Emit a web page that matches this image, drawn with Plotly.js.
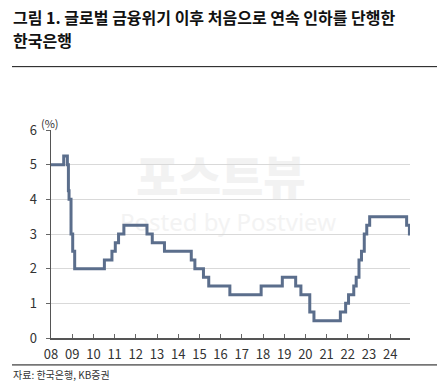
<!DOCTYPE html>
<html>
<head>
<meta charset="utf-8">
<script src="https://cdn.plot.ly/plotly-3.0.1.min.js"></script>
<style>
html,body{margin:0;padding:0;background:#fff;}
#wrap{position:relative;width:445px;height:389px;}
#chart{position:absolute;left:0;top:0;width:445px;height:389px;z-index:1;}
.wm{position:absolute;z-index:0;white-space:nowrap;text-align:center;}
#wm1{left:116px;top:152px;width:210px;font:900 46px/44px "Noto Sans CJK KR",sans-serif;color:#f2f2f2;}
#wm2{left:113px;top:209px;width:230px;font:400 24px/26px "Noto Sans","Open Sans",sans-serif;color:#f3f3f3;}
</style>
</head>
<body>
<div id="wrap">
<div class="wm" id="wm1">포스트뷰</div>
<div class="wm" id="wm2">Posted by Postview</div>
<div id="chart"></div>
</div>
<script>
// Bank of Korea base rate change dates and levels (%)
const dates = [
  '2008-01-01','2008-08-07','2008-10-09','2008-10-27','2008-11-07','2008-12-11',
  '2009-01-09','2009-02-12','2010-07-09','2010-11-16','2011-01-13','2011-03-10',
  '2011-06-10','2012-07-12','2012-10-11','2013-05-09','2014-08-14','2014-10-15',
  '2015-03-12','2015-06-11','2016-06-09','2017-11-30','2018-11-30','2019-07-18',
  '2019-10-16','2020-03-17','2020-05-28','2021-08-26','2021-11-25','2022-01-14',
  '2022-04-14','2022-05-26','2022-07-13','2022-08-25','2022-10-12','2022-11-24',
  '2023-01-13','2024-10-11','2024-11-28','2024-12-08'
];
const rates = [
  5.00,5.25,5.00,4.25,4.00,3.00,
  2.50,2.00,2.25,2.50,2.75,3.00,
  3.25,3.00,2.75,2.50,2.25,2.00,
  1.75,1.50,1.25,1.50,1.75,1.50,
  1.25,0.75,0.50,0.75,1.00,1.25,
  1.50,1.75,2.25,2.50,3.00,3.25,
  3.50,3.25,3.00,3.00
];
const yTicks = [0,1,2,3,4,5,6];
const titleLine1 = '그림 1. 글로벌 금융위기 이후 처음으로 연속 인하를 단행한';
const titleLine2 = '한국은행';
const sourceText = '자료: 한국은행, KB증권';
const unitText = '(%)';

const W = 445, H = 389;
const L = 51, R = 35, T = 129.5, B = 51;
const pw = W - L - R, ph = H - T - B;
const px = x => (x - L) / pw;
const py = y => (H - B - y) / ph;

const FONT = '"Noto Sans CJK KR", "Noto Sans", sans-serif';

const trace = {
  x: dates, y: rates, type: 'scatter', mode: 'lines',
  line: {shape: 'hv', color: '#5b6e8c', width: 3},
  cliponaxis: false, hoverinfo: 'skip'
};

const layout = {
  width: W, height: H,
  margin: {l: L, r: R, t: T, b: B, pad: 0},
  paper_bgcolor: 'rgba(0,0,0,0)', plot_bgcolor: 'rgba(0,0,0,0)',
  showlegend: false,
  font: {family: FONT, color: '#333333', size: 13},
  xaxis: {
    type: 'date',
    range: ['2008-01-01', '2024-12-08'],
    tick0: '2008-01-01', dtick: 'M12', tickformat: '%y',
    ticks: 'inside', ticklen: 4, tickcolor: '#666666', tickwidth: 1,
    showline: true, linecolor: '#555555', linewidth: 1.5,
    showgrid: false, zeroline: false,
    ticklabelstandoff: 4,
    tickfont: {family: FONT, size: 13, color: '#333333'}
  },
  yaxis: {
    range: [0, 6], tickvals: yTicks,
    ticks: 'outside', ticklen: 4, tickcolor: '#666666',
    showline: true, linecolor: '#555555', linewidth: 1.5,
    showgrid: true, gridcolor: '#d9d9d9', gridwidth: 1,
    zeroline: false,
    ticklabelstandoff: 6,
    tickfont: {family: FONT, size: 13, color: '#333333'}
  },
  shapes: [
    {type: 'line', xref: 'paper', yref: 'paper', x0: px(12), x1: px(437), y0: py(66), y1: py(66),
     line: {color: '#111111', width: 1}},
    {type: 'line', xref: 'paper', yref: 'paper', x0: px(12), x1: px(437), y0: py(365), y1: py(365),
     line: {color: '#111111', width: 1}}
  ],
  annotations: [
    {text: '<b>' + titleLine1 + '</b>', xref: 'paper', yref: 'paper', x: px(11), y: py(16),
     xanchor: 'left', yanchor: 'middle', showarrow: false,
     font: {family: FONT, size: 16, color: '#111111'}},
    {text: '<b>' + titleLine2 + '</b>', xref: 'paper', yref: 'paper', x: px(11), y: py(39),
     xanchor: 'left', yanchor: 'middle', showarrow: false,
     font: {family: FONT, size: 16, color: '#111111'}},
    {text: unitText, xref: 'paper', yref: 'paper', x: px(50), y: py(122),
     xanchor: 'center', yanchor: 'middle', showarrow: false,
     font: {family: FONT, size: 11, color: '#333333'}},
    {text: sourceText, xref: 'paper', yref: 'paper', x: px(11), y: py(375),
     xanchor: 'left', yanchor: 'middle', showarrow: false,
     font: {family: FONT, size: 10, color: '#333333'}}
  ]
};

Plotly.newPlot('chart', [trace], layout, {displayModeBar: false, staticPlot: true});
</script>
</body>
</html>
